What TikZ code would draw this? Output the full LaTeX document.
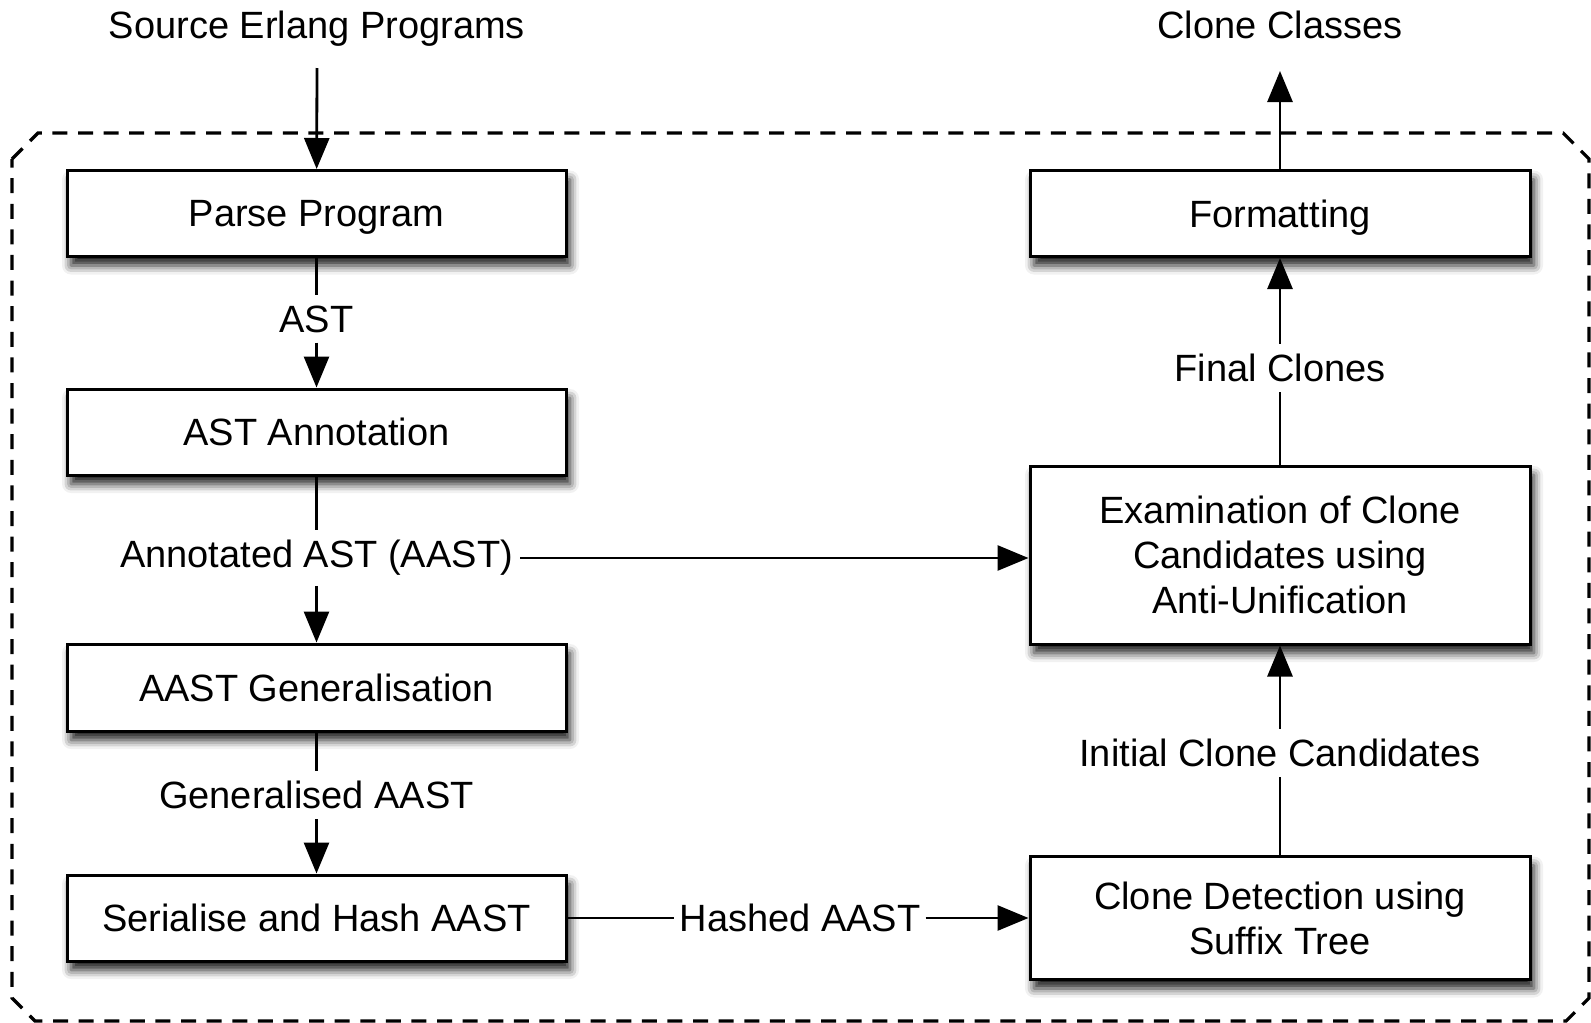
\documentclass[tikz,border=0pt]{standalone}
\usepackage{fontspec}
\setmainfont{Liberation Sans}
\usetikzlibrary{arrows.meta,shadows.blur}
\begin{document}
\begin{tikzpicture}[x=1pt,y=-1pt,
  every node/.style={font=\fontsize{38}{45}\selectfont},
  stage/.style={draw, line width=3pt, fill=white, minimum width=499pt,
    align=center, inner sep=0pt,
    blur shadow={shadow xshift=4pt, shadow yshift=-9pt,
      shadow blur radius=9pt, shadow opacity=90}},
  flow/.style={line width=2.8pt, -{Triangle[length=31pt,width=25pt]}},
  link/.style={line width=2.8pt},
  tag/.style={inner xsep=7pt, inner ysep=10pt}
]
\useasboundingbox (0,0) rectangle (1591,1023);

% dashed frame with cut corners around the processing stages
\draw[line width=3.2pt, dash pattern=on 15pt off 10.6pt]
  (12,159) -- (38,133) -- (1563,133) -- (1589,159) -- (1589,998)
  -- (1566,1021) -- (35,1021) -- (12,998) -- cycle;

% processing stages
\node[stage, minimum height=86pt, text depth=0pt] (parse) at (316.5,213.5) {Parse Program};
\node[stage, minimum height=86pt]  (annot)  at (316.5,432)   {AST Annotation};
\node[stage, minimum height=87pt]  (gen)    at (316.5,687.5) {AAST Generalisation};
\node[stage, minimum height=86pt]  (hash)   at (316.5,918)   {Serialise and Hash AAST};
\node[stage, minimum height=86pt, minimum width=500pt, text depth=0pt] (fmt) at (1280,213.5) {Formatting};
\node[stage, minimum height=178pt, minimum width=500pt] (exam)  at (1280,555)
  {Examination of Clone\\Candidates using\\Anti-Unification};
\node[stage, minimum height=123pt, minimum width=500pt] (detect) at (1280,918)
  {Clone Detection using\\Suffix Tree};

% input / output and data labels
\node (src) at (317,29)  {Source Erlang Programs};
\node (out) at (1280,25) {Clone Classes};
\node[tag] (lAST)   at (316.5,319) {AST};
\node[tag] (lAAST)  at (316.5,558) {Annotated AST (AAST)};
\node[tag] (lGen)   at (316.5,795) {Generalised AAST};
\node[tag] (lFinal) at (1280,368)  {Final Clones};
\node[tag] (lInit)  at (1280,753)  {Initial Clone Candidates};
\node[tag, inner xsep=5pt] (lHash) at (800,918) {Hashed AAST};

\coordinate (srcEnd) at (317,68);
\coordinate (outEnd) at (1280,71);

% data flow
\draw[flow] (srcEnd) -- (parse);
\draw[flow] (fmt) -- (outEnd);
\draw[link] (parse) -- (lAST);
\draw[flow] (lAST) -- (annot);
\draw[link] (annot) -- (lAAST);
\draw[flow] (lAAST) -- (gen);
\draw[flow] (lAAST.east) -- (lAAST.east -| exam.west);
\draw[link] (gen) -- (lGen);
\draw[flow] (lGen) -- (hash);
\draw[link] (hash) -- (lHash);
\draw[flow] (lHash) -- (detect);
\draw[link] (detect) -- (lInit);
\draw[flow] (lInit) -- (exam);
\draw[link] (exam) -- (lFinal);
\draw[flow] (lFinal) -- (fmt);
\end{tikzpicture}
\end{document}
